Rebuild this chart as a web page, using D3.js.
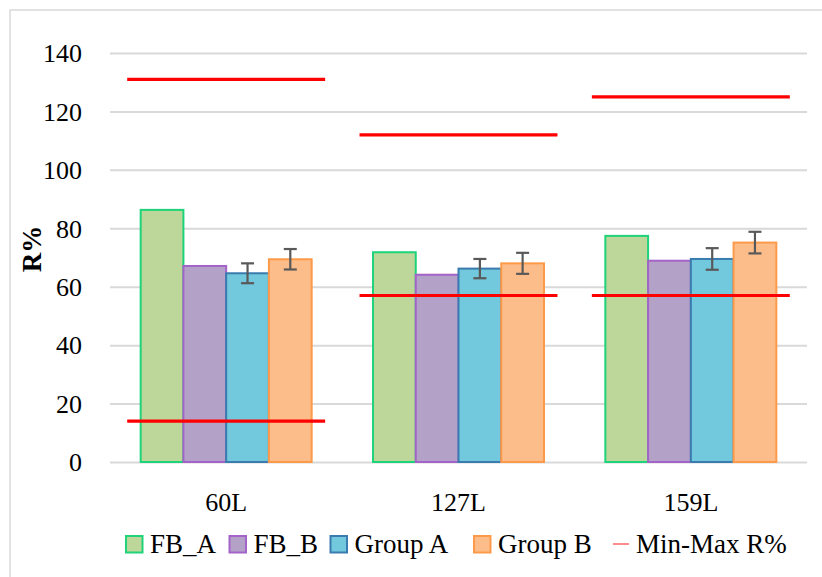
<!DOCTYPE html>
<html>
<head>
<meta charset="utf-8">
<script src="https://cdn.jsdelivr.net/npm/d3@7"></script>
<style>
  html, body { margin: 0; padding: 0; background: #fff; }
  svg { display: block; }
</style>
</head>
<body>
<div id="chart"></div>
<script>
// ---- data ----
const categories = ["60L", "127L", "159L"];
const seriesNames = ["FB_A", "FB_B", "Group A", "Group B"];
const fbA = [86.3, 71.8, 77.4];
const fbB = [67.1, 64.1, 68.9];
const groupA = [64.6, 66.2, 69.5];
const groupB = [69.4, 68.0, 75.1];
const groupAErr = [3.4, 3.3, 3.7];
const groupBErr = [3.5, 3.6, 3.7];
const minR = [14, 57, 57];
const maxR = [131, 112, 125];
const yTicks = [0, 20, 40, 60, 80, 100, 120, 140];
const legendLabels = ["FB_A", "FB_B", "Group A", "Group B", "Min-Max R%"];

// ---- styles ----
const FONT = '"Liberation Serif"';
const fills = ["#bdd69a", "#b4a1c7", "#72c8dc", "#fdbd8a"];
const strokes = ["#1ed37a", "#a463c8", "#3a7bb0", "#fd9a4a"];

const W = 822, H = 577;
const svg = d3.select("#chart").append("svg").attr("width", W).attr("height", H)
  .style("font-family", FONT);

// outer frame
svg.append("rect").attr("x", 10).attr("y", 10).attr("width", W + 20).attr("height", H + 20)
  .attr("fill", "#fff").attr("stroke", "#d9d9d9").attr("stroke-width", 1.5);

const x0 = d3.scaleBand().domain(categories).range([110, 807]).padding(0);
const y = d3.scaleLinear().domain([0, 140]).range([462, 53]);
const groupFrac = 0.736;
const x1 = d3.scaleBand().domain(seriesNames)
  .range([x0.bandwidth() * (1 - groupFrac) / 2, x0.bandwidth() * (1 + groupFrac) / 2]).padding(0);

// gridlines via axis
const yAxis = d3.axisLeft(y).tickValues(yTicks).tickSize(-(807 - 110)).tickPadding(28);
const gY = svg.append("g").attr("transform", "translate(110,0)").call(yAxis)
  .attr("font-family", null).attr("font-size", null);
gY.select(".domain").remove();
gY.selectAll(".tick line").attr("stroke", "#d9d9d9").attr("stroke-width", 2);
gY.selectAll(".tick text").style("font-family", FONT).style("font-size", "26px")
  .attr("fill", "#000").attr("dy", "0.34em");

// x axis labels
const xAxis = d3.axisBottom(x0).tickSize(0).tickPadding(0);
const gX = svg.append("g").attr("transform", "translate(0,490)").call(xAxis)
  .attr("font-family", null).attr("font-size", null);
gX.select(".domain").remove();
gX.selectAll(".tick text").style("font-family", FONT).style("font-size", "26px")
  .attr("fill", "#000").attr("dy", "0.8em");

// y title
svg.append("text").attr("transform", "translate(41,249) rotate(-90)")
  .attr("text-anchor", "middle").style("font-family", FONT).style("font-size", "27px")
  .style("font-weight", "bold").text("R%");

// bars
const seriesVals = [fbA, fbB, groupA, groupB];
const rows = [];
categories.forEach((c, i) => seriesVals.forEach((s, j) => rows.push({ c, s: seriesNames[j], j, v: s[i], i })));

svg.append("g").selectAll("rect").data(rows).join("rect")
  .attr("x", d => x0(d.c) + x1(d.s))
  .attr("y", d => y(d.v))
  .attr("width", x1.bandwidth())
  .attr("height", d => y(0) - y(d.v))
  .attr("fill", d => fills[d.j])
  .attr("stroke", d => strokes[d.j])
  .attr("stroke-width", 2);

// error bars
const errs = [];
categories.forEach((c, i) => {
  errs.push({ c, s: "Group A", v: groupA[i], e: groupAErr[i] });
  errs.push({ c, s: "Group B", v: groupB[i], e: groupBErr[i] });
});
const eg = svg.append("g").attr("stroke", "#595959").attr("stroke-width", 2.2);
errs.forEach(d => {
  const cx = x0(d.c) + x1(d.s) + x1.bandwidth() / 2;
  eg.append("line").attr("x1", cx).attr("x2", cx).attr("y1", y(d.v + d.e)).attr("y2", y(d.v - d.e));
  eg.append("line").attr("x1", cx - 6.5).attr("x2", cx + 6.5).attr("y1", y(d.v + d.e)).attr("y2", y(d.v + d.e));
  eg.append("line").attr("x1", cx - 6.5).attr("x2", cx + 6.5).attr("y1", y(d.v - d.e)).attr("y2", y(d.v - d.e));
});

// min-max red lines
const lineFrac = 0.852;
const rg = svg.append("g").attr("stroke", "#ff0000").attr("stroke-width", 3.2);
categories.forEach((c, i) => {
  const xa = x0(c) + x0.bandwidth() * (1 - lineFrac) / 2;
  const xb = x0(c) + x0.bandwidth() * (1 + lineFrac) / 2;
  [minR[i], maxR[i]].forEach(v => {
    rg.append("line").attr("x1", xa).attr("x2", xb).attr("y1", y(v)).attr("y2", y(v));
  });
});

// legend
const legX = [126, 229.5, 330.5, 474, 613];
const legY = 544;
legendLabels.forEach((lab, k) => {
  const g = svg.append("g").attr("transform", `translate(${legX[k]},${legY})`);
  if (k < 4) {
    g.append("rect").attr("x", 0).attr("y", -8).attr("width", 16.5).attr("height", 16.5)
      .attr("fill", fills[k]).attr("stroke", strokes[k]).attr("stroke-width", 2);
    g.append("text").attr("x", 24).attr("y", 9).style("font-family", FONT).style("font-size", "27px").text(lab);
  } else {
    g.append("line").attr("x1", 0).attr("x2", 16).attr("y1", 0).attr("y2", 0)
      .attr("stroke", "#ff7070").attr("stroke-width", 1.6);
    g.append("text").attr("x", 23).attr("y", 9).style("font-family", FONT).style("font-size", "27px").text(lab);
  }
});
</script>
</body>
</html>
